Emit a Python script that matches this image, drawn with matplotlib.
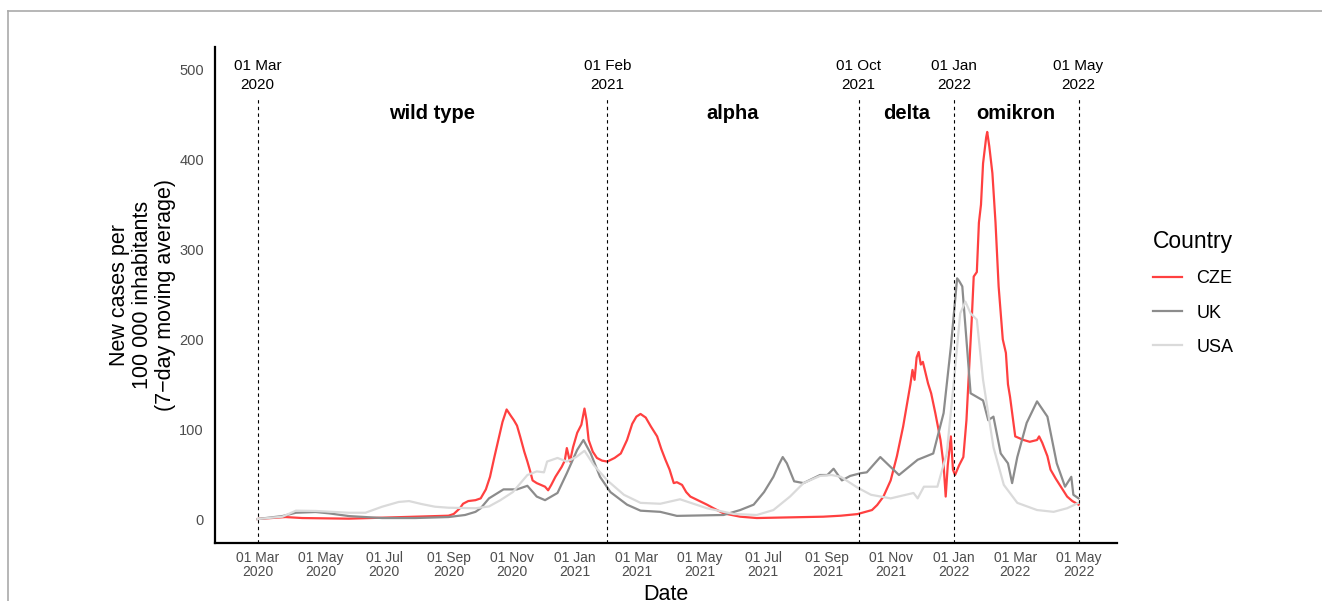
import numpy as np
import pandas as pd
import matplotlib
matplotlib.use("Agg")
import matplotlib.pyplot as plt
import matplotlib.dates as mdates
from matplotlib.lines import Line2D

plt.rcParams['font.family'] = ['Liberation Sans', 'DejaVu Sans']

# --- data ---
cze_dates = ["2020-03-01", "2020-03-28", "2020-04-13", "2020-05-28", "2020-06-29", "2020-07-31",
             "2020-09-01", "2020-09-06", "2020-09-12", "2020-09-15", "2020-09-20", "2020-09-27",
             "2020-10-02", "2020-10-07", "2020-10-11", "2020-10-15", "2020-10-19", "2020-10-23",
             "2020-10-27", "2020-10-31", "2020-11-03", "2020-11-06", "2020-11-09", "2020-11-13",
             "2020-11-16", "2020-11-19", "2020-11-21", "2020-11-25", "2020-11-29", "2020-12-03",
             "2020-12-06", "2020-12-09", "2020-12-13", "2020-12-19", "2020-12-22", "2020-12-24",
             "2020-12-27", "2020-12-30", "2021-01-03", "2021-01-07", "2021-01-10", "2021-01-12",
             "2021-01-14", "2021-01-18", "2021-01-22", "2021-01-27", "2021-02-01", "2021-02-08",
             "2021-02-14", "2021-02-20", "2021-02-25", "2021-03-01", "2021-03-05", "2021-03-10",
             "2021-03-15", "2021-03-21", "2021-03-25", "2021-03-29", "2021-04-02", "2021-04-06",
             "2021-04-09", "2021-04-14", "2021-04-18", "2021-04-22", "2021-05-01", "2021-05-08",
             "2021-05-16", "2021-05-24", "2021-06-09", "2021-06-25", "2021-07-27", "2021-08-28",
             "2021-09-14", "2021-09-30", "2021-10-08", "2021-10-14", "2021-10-19", "2021-10-25",
             "2021-11-01", "2021-11-07", "2021-11-13", "2021-11-17", "2021-11-20", "2021-11-22",
             "2021-11-24", "2021-11-26", "2021-11-28", "2021-11-30", "2021-12-02", "2021-12-07",
             "2021-12-10", "2021-12-14", "2021-12-19", "2021-12-22", "2021-12-24", "2021-12-26",
             "2021-12-29", "2021-12-31", "2022-01-02", "2022-01-06", "2022-01-10", "2022-01-13",
             "2022-01-15", "2022-01-18", "2022-01-20", "2022-01-23", "2022-01-25", "2022-01-27",
             "2022-01-29", "2022-02-01", "2022-02-02", "2022-02-04", "2022-02-07", "2022-02-10",
             "2022-02-13", "2022-02-15", "2022-02-17", "2022-02-20", "2022-02-22", "2022-02-24",
             "2022-02-27", "2022-03-01", "2022-03-05", "2022-03-09", "2022-03-15", "2022-03-22",
             "2022-03-24", "2022-03-27", "2022-04-01", "2022-04-04", "2022-04-09", "2022-04-14",
             "2022-04-20", "2022-04-25", "2022-05-01"]
cze_values = [0, 2.2, 1.1, 0.4, 1.5, 2.6,
              3.7, 5.6, 12, 17, 20, 21,
              23, 33, 47, 68, 88, 108,
              122, 115, 110, 104, 92, 75,
              64, 52, 43, 40, 38, 36,
              32, 38, 47, 58, 65, 79,
              64, 80, 96, 105, 123, 110,
              88, 75, 68, 65, 64, 68,
              73, 88, 106, 114, 117, 113,
              103, 92, 78, 66, 55, 40,
              41, 38, 30, 25, 20, 16,
              11, 6.3, 2.6, 1.1, 1.9, 2.6,
              3.7, 5.5, 8, 10, 15.6, 25,
              43, 70, 103, 130, 150, 166,
              155, 180, 186, 172, 175, 151,
              140, 118, 88, 60, 25, 60,
              92, 55, 49, 60, 69, 110,
              155, 220, 270, 275, 330, 350,
              396, 425, 431, 415, 385, 330,
              259, 230, 200, 185, 150, 136,
              110, 92, 90, 88, 86, 88,
              92, 85, 70, 55, 45, 36,
              25, 20, 16]

uk_dates = ["2020-03-01", "2020-03-25", "2020-04-07", "2020-04-26", "2020-05-09", "2020-05-28",
            "2020-06-29", "2020-07-31", "2020-09-01", "2020-09-17", "2020-09-27", "2020-10-02",
            "2020-10-10", "2020-10-24", "2020-11-06", "2020-11-16", "2020-11-25", "2020-12-03",
            "2020-12-15", "2020-12-24", "2021-01-03", "2021-01-09", "2021-01-16", "2021-01-25",
            "2021-02-04", "2021-02-20", "2021-03-05", "2021-03-24", "2021-04-09", "2021-05-24",
            "2021-06-09", "2021-06-22", "2021-07-02", "2021-07-11", "2021-07-16", "2021-07-20",
            "2021-07-24", "2021-07-31", "2021-08-09", "2021-08-25", "2021-09-01", "2021-09-07",
            "2021-09-15", "2021-09-23", "2021-10-03", "2021-10-09", "2021-10-22", "2021-11-09",
            "2021-11-27", "2021-12-12", "2021-12-22", "2021-12-29", "2022-01-04", "2022-01-06",
            "2022-01-09", "2022-01-17", "2022-01-29", "2022-02-03", "2022-02-08", "2022-02-15",
            "2022-02-22", "2022-02-26", "2022-03-03", "2022-03-12", "2022-03-22", "2022-04-01",
            "2022-04-10", "2022-04-18", "2022-04-24", "2022-04-26", "2022-05-01"]
uk_values = [0, 3.3, 7, 7.8, 6.3, 3.3,
             1.1, 1.1, 2.2, 4.5, 8, 12,
             23, 33, 33, 37, 25, 21,
             29, 51, 77, 88, 73, 47,
             30, 16, 9.3, 8, 3.5, 4.5,
             10, 16, 30, 47, 60, 69,
             62, 42, 40, 49, 49, 56,
             43, 48, 51, 52, 69, 49,
             66, 73, 118, 192, 268, 265,
             259, 140, 132, 110, 114, 73,
             62, 40, 69, 107, 131, 114,
             62, 36, 47, 27, 23]

usa_dates = ["2020-03-01", "2020-03-25", "2020-04-07", "2020-04-26", "2020-05-28", "2020-06-13",
             "2020-06-29", "2020-07-15", "2020-07-25", "2020-08-06", "2020-08-19", "2020-09-01",
             "2020-09-27", "2020-10-10", "2020-10-21", "2020-11-02", "2020-11-16", "2020-11-25",
             "2020-12-02", "2020-12-05", "2020-12-15", "2020-12-24", "2021-01-02", "2021-01-10",
             "2021-01-19", "2021-02-01", "2021-02-17", "2021-03-05", "2021-03-24", "2021-04-12",
             "2021-05-08", "2021-06-03", "2021-06-25", "2021-07-11", "2021-07-27", "2021-08-09",
             "2021-08-25", "2021-09-05", "2021-09-14", "2021-09-30", "2021-10-13", "2021-11-01",
             "2021-11-23", "2021-11-27", "2021-12-03", "2021-12-16", "2021-12-25", "2022-01-01",
             "2022-01-07", "2022-01-12", "2022-01-17", "2022-01-23", "2022-01-29", "2022-02-08",
             "2022-02-18", "2022-03-03", "2022-03-22", "2022-04-07", "2022-04-20", "2022-05-01"]
usa_values = [0, 2.6, 9.3, 9, 7, 7,
              13.7, 19, 20, 16.7, 13.7, 12.6,
              12, 14, 21, 30, 49, 53,
              52, 64, 68, 64, 69, 76,
              60, 43, 27, 18, 17, 22,
              12, 5.6, 4.5, 10, 25, 40,
              48, 49, 47, 35, 27, 23,
              29, 23, 36, 36, 73, 155,
              229, 242, 229, 222, 155, 80,
              38, 18, 10, 8, 12, 18]

countries = ["CZE", "UK", "USA"]
colors = ["#ff4040", "#8c8c8c", "#dadada"]

variant_breaks = ["2020-03-01", "2021-02-01", "2021-10-01", "2022-01-01", "2022-05-01"]
variant_names = ["wild type", "alpha", "delta", "omikron"]

series = {
    "CZE": (pd.to_datetime(cze_dates), cze_values),
    "UK": (pd.to_datetime(uk_dates), uk_values),
    "USA": (pd.to_datetime(usa_dates), usa_values),
}

fig = plt.figure(figsize=(13.22, 6.01), dpi=100)
ax = fig.add_axes([0.1626, 0.0965, 0.6823, 0.8253])

for name, col in zip(countries, colors):
    d, v = series[name]
    ax.plot(d, v, color=col, lw=1.6, label=name)

y_lo, y_hi = -26.7, 525.6
ax.set_ylim(y_lo, y_hi)
ax.set_xlim(pd.Timestamp("2020-01-20"), pd.Timestamp("2022-06-07"))

# variant boundaries
breaks = pd.to_datetime(variant_breaks)
ax.vlines(breaks, y_lo, 470, colors="black", linestyles=(0, (3, 3)), lw=0.8)
for b in breaks:
    ax.text(b, 494, b.strftime("%d %b\n%Y"), ha="center", va="center",
            fontsize=11, linespacing=1.4)
for i, nm in enumerate(variant_names):
    mid = breaks[i] + (breaks[i + 1] - breaks[i]) / 2
    ax.text(mid, 452, nm, ha="center", va="center", fontsize=14.5, fontweight="bold")

# axes styling
ax.set_yticks([0, 100, 200, 300, 400, 500])
ax.xaxis.set_major_locator(mdates.MonthLocator(bymonth=[1, 3, 5, 7, 9, 11]))
ax.xaxis.set_major_formatter(mdates.DateFormatter("%d %b\n%Y"))
ax.tick_params(length=0, labelcolor="#4d4d4d")
ax.tick_params(axis="y", labelsize=10.5, pad=8)
ax.tick_params(axis="x", labelsize=10, pad=6)
for lab in ax.get_xticklabels():
    lab.set_linespacing(1.0)
for s in ["top", "right"]:
    ax.spines[s].set_visible(False)
for s in ["left", "bottom"]:
    ax.spines[s].set_linewidth(1.6)
ax.set_facecolor("white")

ax.set_ylabel("New cases per\n100 000 inhabitants\n(7\u2212day moving average)",
              fontsize=15.5, ha="center", va="center", linespacing=1.12)
ax.yaxis.set_label_coords(-0.0805, 0.5)
ax.set_xlabel("Date", fontsize=15.5)
ax.xaxis.set_label_coords(0.5, -0.082)

# legend
handles = [Line2D([], [], color=c, lw=1.6) for c in colors]
leg = fig.legend(handles, countries, title="Country", loc="upper left",
                 bbox_to_anchor=(1137 / 1322, 1 - 214 / 601), frameon=False,
                 fontsize=13, title_fontsize=16.5, handlelength=1.6,
                 labelspacing=0.95, handletextpad=0.8)
leg._legend_box.align = "left"

# screenshot frame
fig.add_artist(Line2D([8 / 1322, 1], [1 - 11 / 601, 1 - 11 / 601], color="#aaaaaa", lw=1.2))
fig.add_artist(Line2D([8 / 1322, 8 / 1322], [0, 1 - 11 / 601], color="#aaaaaa", lw=1.2))

fig.savefig("out.png", dpi=100)
